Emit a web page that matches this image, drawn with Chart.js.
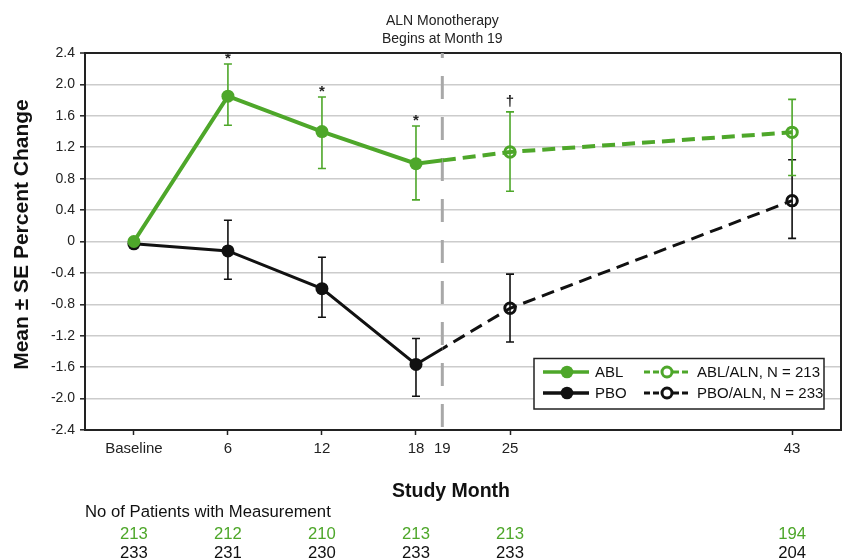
<!DOCTYPE html>
<html>
<head>
<meta charset="utf-8">
<script src="https://cdn.jsdelivr.net/npm/chart.js@4.4.1/dist/chart.umd.min.js"></script>
<style>
  html, body { margin: 0; padding: 0; background: #ffffff; }
  #wrap { width: 843px; height: 558px; position: relative; }
</style>
</head>
<body>
<div id="wrap"><canvas id="c" width="843" height="558"></canvas></div>
<script>
// ---------------- data ----------------
const monthLabels   = ['Baseline', '6', '12', '18', '19', '25', '43'];
const tickPositions = [0, 1, 2, 3, 3.28, 4, 7];      // axis positions of the month ticks
const pointPositions = [0, 1, 2, 3, 4, 7];           // Baseline, 6, 12, 18, 25, 43
const switchPosition = 3.28;                          // month 19 (ALN monotherapy begins)
const yTickValues = [-2.4, -2.0, -1.6, -1.2, -0.8, -0.4, 0, 0.4, 0.8, 1.2, 1.6, 2.0, 2.4];

const ablMean = [0.00, 1.85, 1.40, 0.99, 1.14, 1.39];
const ablHigh = [null, 2.26, 1.84, 1.47, 1.65, 1.81];
const ablLow  = [null, 1.48, 0.93, 0.53, 0.64, 0.84];

const pboMean = [-0.03, -0.12, -0.60, -1.565, -0.85, 0.52];
const pboHigh = [null, 0.27, -0.20, -1.235, -0.415, 1.04];
const pboLow  = [null, -0.48, -0.965, -1.97, -1.28, 0.04];

const sigMarks = ['', '*', '*', '*', '\u2020', ''];

const ablPatients = [213, 212, 210, 213, 213, 194];
const pboPatients = [233, 231, 230, 233, 233, 204];

// ---------------- styles ----------------
const GREEN = '#4ea72a';
const BLACK = '#111111';
const AXIS  = '#222222';
const GRID  = '#cccccc';
const FONT  = '"Liberation Sans", Arial, Helvetica, sans-serif';

function pts(mean) {
  return pointPositions.map((p, i) => ({ x: p, y: mean[i] }));
}

function drawErrorBars(chart, mean, hi, lo, color) {
  const xs = chart.scales.x, ys = chart.scales.y, ctx = chart.ctx;
  ctx.save();
  ctx.strokeStyle = color;
  ctx.lineWidth = 1.6;
  pointPositions.forEach((p, i) => {
    if (hi[i] == null) return;
    const px = xs.getPixelForValue(p);
    const yt = ys.getPixelForValue(hi[i]);
    const yb = ys.getPixelForValue(lo[i]);
    ctx.beginPath();
    ctx.moveTo(px, yt); ctx.lineTo(px, yb);
    ctx.moveTo(px - 4, yt); ctx.lineTo(px + 4, yt);
    ctx.moveTo(px - 4, yb); ctx.lineTo(px + 4, yb);
    ctx.stroke();
  });
  ctx.restore();
}

const phasePlugin = {
  id: 'phaseClip',
  beforeDatasetDraw(chart, args) {
    const ds = chart.data.datasets[args.index];
    if (!ds.phase) return;
    const sx = chart.scales.x.getPixelForValue(switchPosition);
    const ctx = chart.ctx;
    ctx.save();
    ctx.beginPath();
    if (ds.phase === 'before') ctx.rect(0, 0, sx, chart.height);
    else ctx.rect(sx, 0, chart.width - sx, chart.height);
    ctx.clip();
  },
  afterDatasetDraw(chart, args) {
    const ds = chart.data.datasets[args.index];
    if (ds.phase) chart.ctx.restore();
  }
};

const decorPlugin = {
  id: 'decor',
  beforeDatasetsDraw(chart) {
    const ctx = chart.ctx, a = chart.chartArea, xs = chart.scales.x;
    // vertical dashed line at month 19
    const sx = xs.getPixelForValue(switchPosition);
    ctx.save();
    ctx.strokeStyle = '#a8a8a8';
    ctx.lineWidth = 3;
    ctx.setLineDash([23, 18]);
    ctx.lineDashOffset = 18;
    ctx.beginPath();
    ctx.moveTo(sx, a.top);
    ctx.lineTo(sx, a.bottom);
    ctx.stroke();
    ctx.restore();
    // right border
    ctx.save();
    ctx.strokeStyle = AXIS;
    ctx.lineWidth = 2;
    ctx.beginPath();
    ctx.moveTo(a.right, a.top);
    ctx.lineTo(a.right, a.bottom);
    ctx.stroke();
    ctx.restore();
    // error bars
    drawErrorBars(chart, pboMean, pboHigh, pboLow, BLACK);
    drawErrorBars(chart, ablMean, ablHigh, ablLow, GREEN);
  },
  afterDraw(chart) {
    const ctx = chart.ctx, xs = chart.scales.x, ys = chart.scales.y;
    const sx = xs.getPixelForValue(switchPosition);
    ctx.save();
    // significance marks
    ctx.fillStyle = AXIS;
    ctx.textAlign = 'center';
    ctx.textBaseline = 'alphabetic';
    pointPositions.forEach((p, i) => {
      if (!sigMarks[i]) return;
      const px = xs.getPixelForValue(p);
      const yt = ys.getPixelForValue(ablHigh[i]);
      ctx.font = 'bold 15px ' + FONT;
      if (sigMarks[i] === '*') {
        ctx.fillText('*', px, yt - 1);
      } else {
        ctx.fillText(sigMarks[i], px, yt - 6);
      }
    });
    // top annotation
    ctx.fillStyle = AXIS;
    ctx.font = '14px ' + FONT;
    ctx.fillText('ALN Monotherapy', sx, 24.5);
    ctx.fillText('Begins at Month 19', sx, 43);
    // y title
    ctx.save();
    ctx.translate(28.3, 234.5);
    ctx.rotate(-Math.PI / 2);
    ctx.font = 'bold 21px ' + FONT;
    ctx.fillStyle = BLACK;
    ctx.textAlign = 'center';
    ctx.fillText('Mean \u00b1 SE Percent Change', 0, 0);
    ctx.restore();
    // x title
    ctx.font = 'bold 19.5px ' + FONT;
    ctx.fillStyle = BLACK;
    ctx.textAlign = 'center';
    ctx.fillText('Study Month', 451, 496.7);
    // patients header
    ctx.font = '16.7px ' + FONT;
    ctx.textAlign = 'left';
    ctx.fillStyle = BLACK;
    ctx.fillText('No of Patients with Measurement', 85, 517);
    // patient counts
    ctx.textAlign = 'center';
    pointPositions.forEach((p, i) => {
      const px = xs.getPixelForValue(p);
      ctx.fillStyle = GREEN;
      ctx.fillText(String(ablPatients[i]), px, 539.3);
      ctx.fillStyle = BLACK;
      ctx.fillText(String(pboPatients[i]), px, 557.5);
    });
    // legend
    const L = { x: 534, y: 358.5, w: 290, h: 50.5 };
    ctx.fillStyle = '#ffffff';
    ctx.fillRect(L.x, L.y, L.w, L.h);
    ctx.strokeStyle = AXIS;
    ctx.lineWidth = 1.5;
    ctx.strokeRect(L.x, L.y, L.w, L.h);
    const rows = [
      { y: 372, color: GREEN, solid: 'ABL', dashed: 'ABL/ALN, N = 213' },
      { y: 393, color: BLACK, solid: 'PBO', dashed: 'PBO/ALN, N = 233' }
    ];
    rows.forEach(r => {
      ctx.strokeStyle = r.color;
      ctx.lineWidth = 3.5;
      ctx.setLineDash([]);
      ctx.beginPath(); ctx.moveTo(543, r.y); ctx.lineTo(589, r.y); ctx.stroke();
      ctx.fillStyle = r.color;
      ctx.beginPath(); ctx.arc(567, r.y, 6.3, 0, Math.PI * 2); ctx.fill();
      ctx.lineWidth = 3;
      ctx.setLineDash([6, 3]);
      ctx.beginPath(); ctx.moveTo(644, r.y); ctx.lineTo(660, r.y); ctx.stroke();
      ctx.beginPath(); ctx.moveTo(673, r.y); ctx.lineTo(691, r.y); ctx.stroke();
      ctx.setLineDash([]);
      ctx.fillStyle = '#ffffff';
      ctx.beginPath(); ctx.arc(667, r.y, 5, 0, Math.PI * 2); ctx.fill(); ctx.stroke();
      ctx.fillStyle = BLACK;
      ctx.font = '15px ' + FONT;
      ctx.textAlign = 'left';
      ctx.textBaseline = 'middle';
      ctx.fillText(r.solid, 595, r.y + 0.5);
      ctx.fillText(r.dashed, 697, r.y + 0.5);
    });
    ctx.restore();
  }
};

function solidSet(label, mean, color, width) {
  return {
    label, data: pts(mean), phase: 'before',
    borderColor: color, backgroundColor: color, borderWidth: width,
    pointRadius: ctx => (ctx.dataIndex <= 3 ? 6.5 : 0),
    pointBackgroundColor: color, pointBorderColor: color, pointBorderWidth: 0,
    tension: 0, fill: false
  };
}
function dashedSet(label, mean, color, width) {
  return {
    label, data: pts(mean), phase: 'after',
    borderColor: color, backgroundColor: 'rgba(0,0,0,0)', borderWidth: width,
    borderDash: [13, 7],
    pointRadius: ctx => (ctx.dataIndex >= 4 ? 5.2 : 0),
    pointBackgroundColor: 'rgba(0,0,0,0)', pointBorderColor: color, pointBorderWidth: 3,
    tension: 0, fill: false
  };
}

Chart.defaults.font.family = FONT;
Chart.defaults.color = AXIS;

new Chart(document.getElementById('c'), {
  type: 'line',
  data: {
    datasets: [
      solidSet('ABL', ablMean, GREEN, 4),
      dashedSet('ABL/ALN, N = 213', ablMean, GREEN, 4),
      solidSet('PBO', pboMean, BLACK, 3),
      dashedSet('PBO/ALN, N = 233', pboMean, BLACK, 3)
    ]
  },
  options: {
    responsive: false,
    animation: false,
    events: [],
    layout: { autoPadding: false, padding: { left: 0, right: 2, top: 53, bottom: 0 } },
    plugins: { legend: { display: false }, tooltip: { enabled: false } },
    scales: {
      x: {
        type: 'linear',
        min: -0.52, max: 7.52,
        afterBuildTicks: s => { s.ticks = tickPositions.map(v => ({ value: v })); },
        afterFit: s => { s.height = 128; s.paddingLeft = 0; s.paddingRight = 0; },
        ticks: {
          autoSkip: false, maxRotation: 0, minRotation: 0,
          padding: 5,
          color: AXIS,
          font: { size: 15 },
          callback: (v, i) => monthLabels[i]
        },
        grid: {
          drawOnChartArea: false,
          tickLength: 5,
          tickWidth: 1.5,
          tickColor: ctx => (ctx.index === 4 ? 'rgba(0,0,0,0)' : AXIS)
        },
        border: { color: AXIS, width: 2 }
      },
      y: {
        type: 'linear',
        min: -2.4, max: 2.4,
        afterBuildTicks: s => { s.ticks = yTickValues.map(v => ({ value: v })); },
        afterFit: s => { s.width = 85; s.paddingTop = 0; s.paddingBottom = 0; },
        ticks: {
          padding: 5,
          color: AXIS,
          font: { size: 14 },
          callback: v => (Math.abs(v) < 1e-9 ? '0' : v.toFixed(1))
        },
        grid: {
          color: ctx => {
            const v = ctx.tick ? ctx.tick.value : 0;
            if (Math.abs(v - 2.4) < 1e-6) return AXIS;
            if (Math.abs(v + 2.4) < 1e-6) return 'rgba(0,0,0,0)';
            return GRID;
          },
          lineWidth: ctx => {
            const v = ctx.tick ? ctx.tick.value : 0;
            return Math.abs(v - 2.4) < 1e-6 ? 2 : 1.6;
          },
          tickLength: 5,
          tickWidth: 1.5,
          tickColor: AXIS
        },
        border: { color: AXIS, width: 2 }
      }
    }
  },
  plugins: [phasePlugin, decorPlugin]
});
</script>
</body>
</html>
